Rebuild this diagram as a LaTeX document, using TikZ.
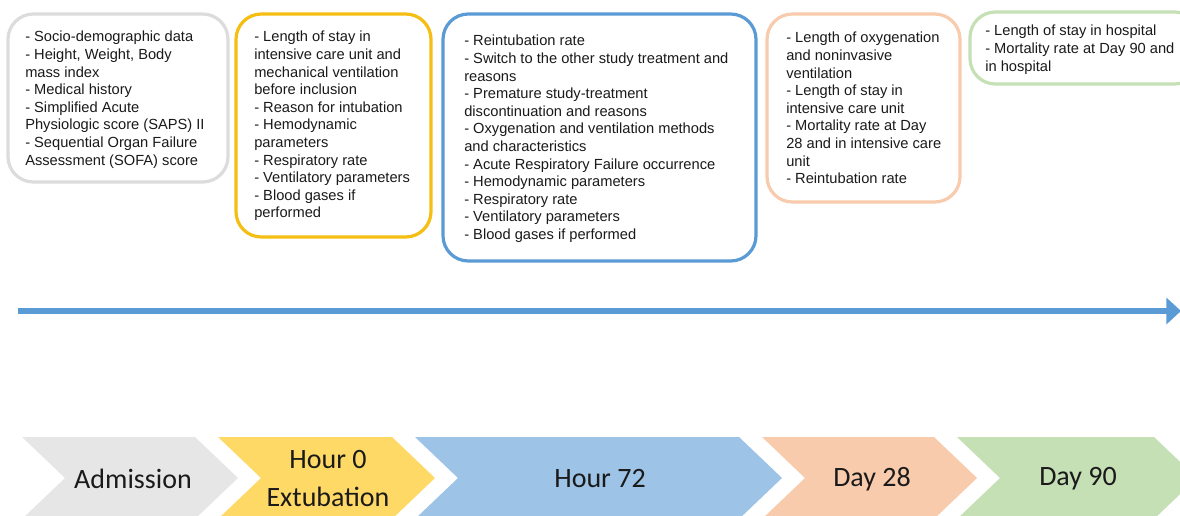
\documentclass[tikz,border=0pt]{standalone}
\usepackage{fontspec}
\setmainfont{Liberation Sans}
\newfontfamily\chevfont{Carlito}
\usetikzlibrary{arrows.meta}
\definecolor{gbox}{HTML}{DCDCDC}
\definecolor{ybox}{HTML}{F5BE12}
\definecolor{bbox}{HTML}{5B9BD5}
\definecolor{obox}{HTML}{F8CBAD}
\definecolor{grbox}{HTML}{C5E0B4}
\definecolor{gchev}{HTML}{E7E6E6}
\definecolor{ychev}{HTML}{FFD966}
\definecolor{bchev}{HTML}{9DC3E6}
\definecolor{ochev}{HTML}{F8CBAD}
\definecolor{grchev}{HTML}{C5E0B4}
\definecolor{arrowblue}{HTML}{5B9BD5}
\definecolor{txt}{HTML}{1A1A1A}
\tikzset{
  outbox/.style={line width=2.4pt, rounded corners=19pt, fill=white},
  item/.style={anchor=north west, inner sep=0pt, align=left, text=txt,
    font=\fontsize{11}{13.2}\selectfont},
  chevtext/.style={inner sep=0pt, text=txt, font=\chevfont\fontsize{21}{28.5}\selectfont, align=center}
}
\begin{document}
\begin{tikzpicture}[x=0.75pt,y=-0.75pt]
\useasboundingbox (0,0) rectangle (1180,515);
\clip (0,0) rectangle (1180,515);
% outcome boxes
\draw[outbox, draw=gbox] (8,14) rectangle (228,182);
\draw[outbox, draw=ybox] (236,14) rectangle (431,237);
\draw[outbox, draw=bbox] (443,14) rectangle (756,261);
\draw[outbox, draw=obox] (767,14) rectangle (960,202);
\draw[outbox, draw=grbox] (970,12) rectangle (1200,84);
\node[item] (tadm) at (25,31) {- Socio-demographic data\\- Height, Weight, Body\\mass index\\- Medical history\\- Simplified Acute\\Physiologic score (SAPS) II\\- Sequential Organ Failure\\Assessment (SOFA) score};
\node[item] (th0) at (254,31) {- Length of stay in\\intensive care unit and\\mechanical ventilation\\before inclusion\\- Reason for intubation\\- Hemodynamic\\parameters\\- Respiratory rate\\- Ventilatory parameters\\- Blood gases if\\performed};
\node[item] (th72) at (464,35) {- Reintubation rate\\- Switch to the other study treatment and\\reasons\\- Premature study-treatment\\discontinuation and reasons\\- Oxygenation and ventilation methods\\and characteristics\\- Acute Respiratory Failure occurrence\\- Hemodynamic parameters\\- Respiratory rate\\- Ventilatory parameters\\- Blood gases if performed};
\node[item] (td28) at (786,32) {- Length of oxygenation\\and noninvasive\\ventilation\\- Length of stay in\\intensive care unit\\- Mortality rate at Day\\28 and in intensive care\\unit\\- Reintubation rate};
\node[item] (td90) at (985,25) {- Length of stay in hospital\\- Mortality rate at Day 90 and\\in hospital};
% time arrow
\coordinate (astart) at (18,311);
\coordinate (aend) at (1181,311);
\draw[arrowblue, line width=4.5pt, -{Triangle[length=11pt,width=19.5pt]}] (astart) -- (aend);
% chevrons
\foreach \L/\R/\col in {22/195/gchev, 218/392/ychev, 415/739/bchev, 762/934/ochev, 957/1154/grchev}{
  \fill[\col] (\L,437) -- (\R,437) -- (\R+43,478) -- (\R,519) -- (\L,519) -- (\L+43,478) -- cycle;
}
\node[chevtext] (cadm) at (133,479) {Admission};
\node[chevtext] (ch0) at (328,479) {Hour 0\\Extubation};
\node[chevtext] (ch72) at (600,479) {Hour 72};
\node[chevtext] (cd28) at (872,479) {Day 28};
\node[chevtext] (cd90) at (1078,479) {Day 90};
\end{tikzpicture}
\end{document}
